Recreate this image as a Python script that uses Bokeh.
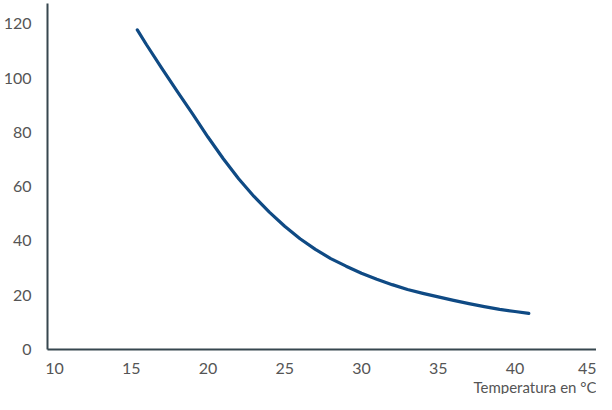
from bokeh.plotting import figure
from bokeh.models import Range1d, FixedTicker, Title, ColumnDataSource
from bokeh.embed import file_html
from bokeh.resources import INLINE

temperature = [15.4, 16, 17, 18, 19, 20, 21, 22, 23, 24, 25, 26, 27, 28, 29, 30,
               31, 32, 33, 34, 35, 36, 37, 38, 39, 40, 40.9]
values = [117.8, 112.3, 103.6, 95.1, 86.8, 78.3, 70.3, 62.9, 56.4, 50.6, 45.4, 40.8,
          36.9, 33.5, 30.7, 28.1, 25.9, 23.9, 22.1, 20.7, 19.4, 18.1, 16.9, 15.8,
          14.8, 14.0, 13.3]
x_ticks = [10, 15, 20, 25, 30, 35, 40, 45]
y_ticks = [0, 20, 40, 60, 80, 100, 120]
x_label = "Temperatura en °C"

FONT = "Lato"
TXT = "#555555"
AXIS = "#37474f"
X_END = 45.31

p = figure(width=596, height=394, output_backend="svg", toolbar_location=None,
           x_range=Range1d(9.55, X_END), y_range=Range1d(0, 127.5),
           min_border_left=37, min_border_right=0, min_border_top=3, min_border_bottom=0)
p.outline_line_color = None
p.grid.visible = False
p.background_fill_color = "white"

src = ColumnDataSource(dict(x=temperature, y=values))
p.line("x", "y", source=src, line_color="#0f4a84", line_width=3.2,
       line_join="round", line_cap="round")

for ax in (p.xaxis[0], p.yaxis[0]):
    ax.axis_line_color = AXIS
    ax.axis_line_width = 2
    ax.major_tick_line_color = None
    ax.minor_tick_line_color = None
    ax.major_label_text_font = FONT
    ax.major_label_text_font_size = "16px"
    ax.major_label_text_color = TXT
    ax.major_label_standoff = 10

p.xaxis[0].ticker = FixedTicker(ticks=x_ticks)
p.yaxis[0].ticker = FixedTicker(ticks=y_ticks)
p.xaxis[0].major_label_standoff = 7

p.add_layout(Title(text=x_label, align="right", standoff=-2, offset=0,
                   text_font=FONT, text_font_size="15px", text_font_style="normal",
                   text_color=TXT), "below")

open("out.html", "w").write(file_html(p, INLINE))
